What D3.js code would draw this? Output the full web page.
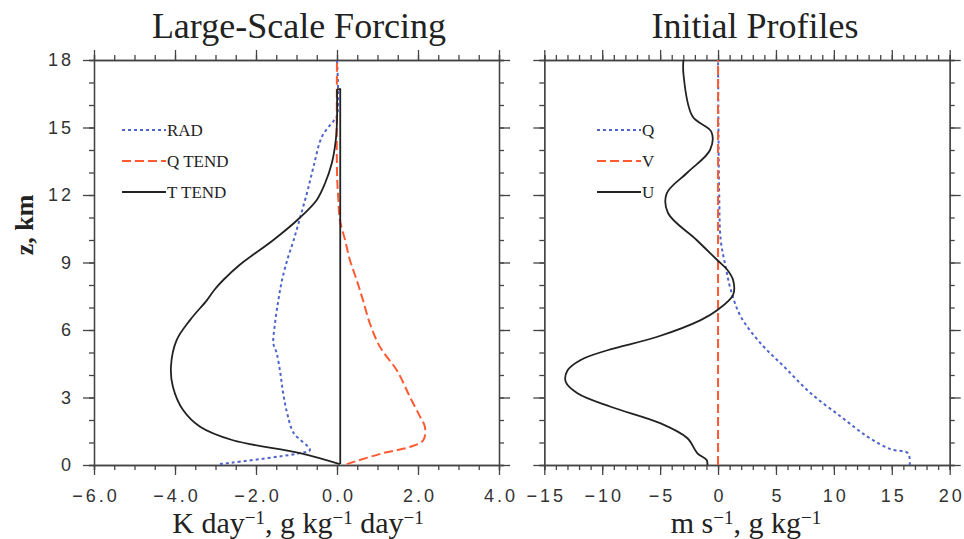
<!DOCTYPE html>
<html>
<head>
<meta charset="utf-8">
<script src="https://cdn.jsdelivr.net/npm/d3@7"></script>
<style>
  body { margin: 0; background: #fff; }
  .tick text { font-family: 'Liberation Sans', Arial, sans-serif; font-size: 18px; letter-spacing: 3px; fill: #333; }
  .domain, .tick line { stroke: #444; stroke-width: 1.3; }
  .title { font-family: 'Liberation Serif', 'Times New Roman', serif; font-size: 36px; fill: #222; }
  .xlab { font-family: 'Liberation Serif', 'Times New Roman', serif; font-size: 30px; fill: #222; }
  .ylab { font-family: 'Liberation Serif', 'Times New Roman', serif; font-size: 26px; font-weight: bold; fill: #222; }
  .leg { font-family: 'Liberation Serif', 'Times New Roman', serif; font-size: 17px; fill: #222; }
</style>
</head>
<body>
<svg id="chart" width="964" height="539"></svg>
<script>
// heights (km) and values
const radZ = [0.04, 0.53, 0.67, 1.42, 2.3, 3.2, 4.1, 4.98, 5.4, 6.3, 7.3, 8.2, 9.1, 10, 11, 12.1, 13.25, 14.6, 15.3, 15.5, 18]
const radV = [-2.89, -0.91, -0.67, -1.07, -1.23, -1.33, -1.4, -1.49, -1.57, -1.53, -1.45, -1.36, -1.23, -1.07, -0.91, -0.74, -0.58, -0.37, -0.08, 0, 0]

const qTendZ = [0.04, 0.53, 0.8, 1.1, 1.7, 2.15, 3.03, 4.2, 5.25, 6.3, 7.33, 8.2, 9.1, 10, 10.9, 11.9, 13, 18]
const qTendV = [0.24, 1.14, 1.8, 2.13, 2.17, 2.05, 1.8, 1.48, 1.06, 0.81, 0.64, 0.49, 0.32, 0.2, 0.07, 0.03, 0, 0]

const tTendZ = [0.04, 0.53, 1.1, 1.7, 2.44, 3.47, 4.37, 5.55, 6.44, 7.33, 7.8, 8.2, 8.9, 10.0, 11.0, 11.78, 12.5, 13.4, 14.44, 15.3, 16.7]
const tTendV = [0.07, -0.91, -2.57, -3.38, -3.8, -4.05, -4.1, -3.96, -3.63, -3.21, -3.02, -2.82, -2.4, -1.57, -0.91, -0.5, -0.3, -0.13, -0.03, 0.0, 0.0]
// the T TEND trace drops straight back down to the surface from its top
const tDropZ = [16.7, 16.7, 0.04]
const tDropV = [0.0, 0.08, 0.08]

const qZ = [0, 0.52, 0.7, 1.26, 2.15, 3.19, 4.37, 5.4, 6.6, 7.78, 8.8, 10, 12, 14, 18]
const qV = [16.55, 16.4, 14.9, 12.9, 10.6, 8.0, 5.7, 3.69, 1.96, 1.1, 0.66, 0.23, 0.1, 0.05, 0]

const vZ = [0, 18]
const vV = [0, 0]

const uZ = [0, 0.22, 0.52, 1.19, 1.85, 2.59, 3.19, 3.7, 4.2, 4.67, 5.1, 5.7, 6.44, 6.89, 7.56, 8.22, 8.67, 9.1, 10, 11.2, 12.07, 13.0, 14.0, 14.8, 15.5, 17.4, 18]
const uV = [-0.92, -0.98, -1.78, -2.64, -4.95, -9.27, -12.14, -13.15, -13.0, -11.86, -9.55, -5.23, -1.5, -0.05, 1.3, 1.3, 0.81, -0.05, -1.85, -4.32, -4.43, -2.64, -0.69, -0.57, -2.21, -2.99, -2.99]

const zTicks = [0, 3, 6, 9, 12, 15, 18]
const leftTicks = [-6, -4, -2, 0, 2, 4]
const rightTicks = [-15, -10, -5, 0, 5, 10, 15, 20]

const BLUE = '#4f63cc'
const RED = '#ff5a32'
const BLACK = '#222'

const svg = d3.select('#chart')
const yTop = 60
const yBottom = 465

const y = d3.scaleLinear().domain([0, 18]).range([yBottom, yTop])

function zip (vals, zs) {
  return vals.map((v, i) => [v, zs[i]])
}

function panel (opt) {
  const x = d3.scaleLinear().domain(opt.domain).range(opt.range)
  const g = svg.append('g')

  // minor ticks first, then major
  const minorX = d3.range(opt.domain[0], opt.domain[1] + 1e-9, opt.minor)
  const minorY = d3.range(0, 18.001, 1)
  const addAxis = (axis, tr) => g.append('g').attr('transform', tr).call(axis)

  addAxis(d3.axisBottom(x).tickValues(minorX).tickSize(5).tickFormat(''), `translate(0,${yBottom})`)
  addAxis(d3.axisTop(x).tickValues(minorX).tickSize(5).tickFormat(''), `translate(0,${yTop})`)
  addAxis(d3.axisLeft(y).tickValues(minorY).tickSize(5).tickFormat(''), `translate(${opt.range[0]},0)`)
  addAxis(d3.axisRight(y).tickValues(minorY).tickSize(5).tickFormat(''), `translate(${opt.range[1]},0)`)

  const xb = addAxis(d3.axisBottom(x).tickValues(opt.ticks).tickSize(10).tickSizeOuter(0).tickPadding(14).tickFormat(opt.fmt), `translate(0,${yBottom})`)
  xb.selectAll('.tick text').attr('dx', 1.5)
  addAxis(d3.axisTop(x).tickValues(opt.ticks).tickSize(10).tickSizeOuter(0).tickFormat(''), `translate(0,${yTop})`)
  addAxis(d3.axisLeft(y).tickValues(zTicks).tickSize(11).tickSizeOuter(0).tickPadding(9).tickFormat(opt.yLabels ? d3.format('d') : ''), `translate(${opt.range[0]},0)`)
  addAxis(d3.axisRight(y).tickValues(zTicks).tickSize(11).tickSizeOuter(0).tickFormat(''), `translate(${opt.range[1]},0)`)
  g.selectAll('.domain').attr('stroke', '#444').attr('stroke-width', 1.5)

  const line = d3.line()
    .curve(d3.curveCatmullRom.alpha(0.5))
    .x(d => x(d[0])).y(d => y(d[1]))
  const straight = d3.line().x(d => x(d[0])).y(d => y(d[1]))

  opt.series.forEach((s, i) => {
    g.append('path')
      .datum(zip(s.v, s.z))
      .attr('fill', 'none')
      .attr('stroke', s.color)
      .attr('stroke-width', s.width)
      .attr('stroke-dasharray', s.dash)
      .attr('d', line)

    if (s.drop) {
      g.append('path')
        .datum(zip(s.drop.v, s.drop.z))
        .attr('fill', 'none')
        .attr('stroke', s.color)
        .attr('stroke-width', s.width)
        .attr('d', straight)
    }

    // legend
    const ly = [130, 161, 192][i]
    g.append('line')
      .attr('x1', opt.legX).attr('x2', opt.legX + 44)
      .attr('y1', ly).attr('y2', ly)
      .attr('stroke', s.color)
      .attr('stroke-width', s.width)
      .attr('stroke-dasharray', s.dash)
    g.append('text')
      .attr('class', 'leg')
      .attr('x', opt.legX + 45)
      .attr('y', ly + 6)
      .text(s.name)
  })

  g.append('text').attr('class', 'title')
    .attr('x', opt.titleX).attr('y', 38)
    .attr('text-anchor', 'middle')
    .text(opt.title)

  const xl = g.append('text').attr('class', 'xlab')
    .attr('x', opt.xlabX).attr('y', 533)
    .attr('text-anchor', 'middle')
  opt.xlab.forEach(p => {
    const t = xl.append('tspan').text(p[0])
    if (p[1]) t.attr('font-size', 19).attr('baseline-shift', '45%')
  })
  return g
}

panel({
  domain: [-6, 4],
  range: [94, 499],
  ticks: leftTicks,
  minor: 0.5,
  fmt: d3.format('.1f'),
  yLabels: true,
  legX: 122,
  title: 'Large-Scale Forcing',
  titleX: 299,
  xlabX: 298,
  xlab: [['K day'], ['\u22121', true], [', g kg'], ['\u22121', true], [' day'], ['\u22121', true]],
  series: [
    { name: 'RAD', z: radZ, v: radV, color: BLUE, width: 2, dash: '3,3' },
    { name: 'Q TEND', z: qTendZ, v: qTendV, color: RED, width: 2, dash: '9,4' },
    { name: 'T TEND', z: tTendZ, v: tTendV, color: BLACK, width: 1.8, dash: null, drop: { z: tDropZ, v: tDropV } }
  ]
})

panel({
  domain: [-15, 20],
  range: [544.3, 949.7],
  ticks: rightTicks,
  minor: 1,
  fmt: d3.format('d'),
  yLabels: false,
  legX: 597,
  title: 'Initial Profiles',
  titleX: 755,
  xlabX: 746,
  xlab: [['m s'], ['\u22121', true], [', g kg'], ['\u22121', true]],
  series: [
    { name: 'Q', z: qZ, v: qV, color: BLUE, width: 2, dash: '3,3' },
    { name: 'V', z: vZ, v: vV, color: RED, width: 2, dash: '9,4' },
    { name: 'U', z: uZ, v: uV, color: BLACK, width: 1.8, dash: null }
  ]
})

svg.append('text').attr('class', 'ylab')
  .attr('transform', 'translate(33,225) rotate(-90)')
  .attr('text-anchor', 'middle')
  .text('z, km')
</script>
</body>
</html>
